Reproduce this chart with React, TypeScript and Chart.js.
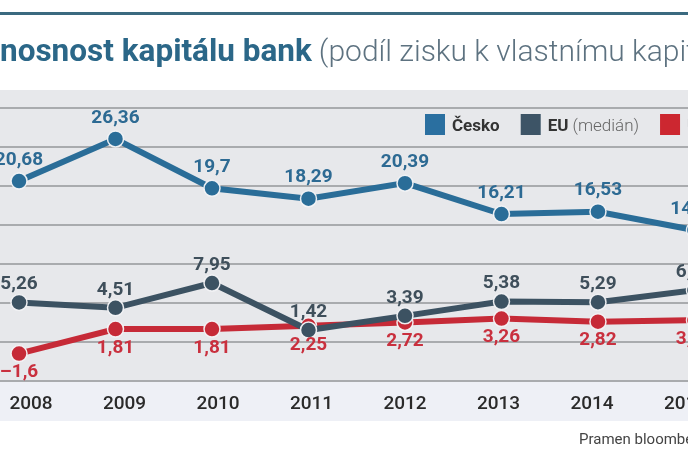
import React, { useEffect, useRef } from 'react';
import { Chart, registerables } from 'chart.js';

Chart.register(...registerables);

// ---------- data ----------
const years = [2008, 2009, 2010, 2011, 2012, 2013, 2014, 2015];
const cesko = [20.68, 26.36, 19.7, 18.29, 20.39, 16.21, 16.53, 14.05];
const eu = [5.26, 4.51, 7.95, 1.42, 3.39, 5.38, 5.29, 6.95];
const usa = [-1.6, 1.81, 1.81, 2.25, 2.72, 3.26, 2.82, 3.03];
const seriesNames = ['Česko', 'EU', 'USA'];
const seriesNotes = ['', '(medián)', ''];
const gridSteps = [0, 1, 2, 3, 4, 5, 6, 7];
const titleBold = 'Výnosnost kapitálu bank';
const titleLight = '(podíl zisku k vlastnímu kapitálu)';
const sourceText = 'Pramen bloomberg';

// ---------- styles ----------
const lineColors = ['#2a6d98', '#3c5262', '#c62a37'];
const legendColors = ['#2a6fa0', '#3d5466', '#cc2730'];
const labelColors = ['#2d6a93', '#3f4f5b', '#c9303e'];
const labelOffsets = [-21, -18, 19];
const FONT = 'Roboto, "Noto Sans", sans-serif';

const fmt = (v: number) => (v < 0 ? '–' : '') + String(Math.abs(v)).replace('.', ',');

const decorPlugin = {
  id: 'decor',
  beforeDraw(chart: any) {
    const { ctx, chartArea: a, width, height } = chart;
    ctx.save();
    ctx.fillStyle = '#ffffff';
    ctx.fillRect(0, 0, width, height);
    ctx.fillStyle = '#e7e8eb';
    ctx.fillRect(0, a.top, width, a.bottom - a.top);
    ctx.fillStyle = '#eef0f6';
    ctx.fillRect(0, a.bottom, width, 40);
    ctx.fillStyle = '#3b6a80';
    ctx.fillRect(0, 12, width, 3);

    // title (starts left of the visible area, as in the cropped original)
    ctx.textAlign = 'left';
    ctx.textBaseline = 'alphabetic';
    ctx.font = `bold 31.5px ${FONT}`;
    const x0 = -ctx.measureText('Vý').width;
    ctx.fillStyle = '#2b6788';
    ctx.fillText(titleBold, x0, 61);
    const wb = ctx.measureText(titleBold).width;
    ctx.font = `300 30px ${FONT}`;
    ctx.fillStyle = '#5d7280';
    ctx.fillText(titleLight, x0 + wb + 7, 61);

    ctx.font = `15px ${FONT}`;
    ctx.fillStyle = '#444444';
    ctx.fillText(sourceText, 579, 444);
    ctx.restore();
  },
  afterDatasetsDraw(chart: any) {
    const { ctx } = chart;
    ctx.save();
    // value labels
    ctx.textAlign = 'center';
    ctx.textBaseline = 'middle';
    ctx.font = `bold 19px ${FONT}`;
    chart.data.datasets.forEach((ds: any, i: number) => {
      const meta = chart.getDatasetMeta(i);
      ctx.fillStyle = labelColors[i];
      meta.data.forEach((pt: any, j: number) => {
        ctx.fillText(fmt(ds.data[j].y), pt.x, pt.y + labelOffsets[i]);
      });
    });
    // legend
    let x = 425;
    const sqTop = 114;
    ctx.textAlign = 'left';
    ctx.textBaseline = 'alphabetic';
    seriesNames.forEach((name, i) => {
      ctx.fillStyle = legendColors[i];
      ctx.fillRect(x, sqTop, 20, 21);
      x += 27;
      ctx.font = `bold 17px ${FONT}`;
      ctx.fillStyle = '#333333';
      ctx.fillText(name, x, 131);
      x += ctx.measureText(name).width;
      if (seriesNotes[i]) {
        x += 4;
        ctx.font = `300 17px ${FONT}`;
        ctx.fillStyle = '#666666';
        ctx.fillText(seriesNotes[i], x, 131);
        x += ctx.measureText(seriesNotes[i]).width;
      }
      x += 21;
    });
    ctx.restore();
  },
};

const series = [cesko, eu, usa];
const yIds = ['yC', 'yE', 'yU'];

export default function App() {
  const ref = useRef<HTMLCanvasElement>(null);
  useEffect(() => {
    if (!ref.current) return;
    const chart = new Chart(ref.current, {
      type: 'line',
      data: {
        datasets: series.map((vals, i) => ({
          label: seriesNames[i],
          data: years.map((y, j) => ({ x: y, y: vals[j] })),
          xAxisID: 'x',
          yAxisID: yIds[i],
          borderColor: lineColors[i],
          backgroundColor: lineColors[i],
          borderWidth: 6,
          pointRadius: 8,
          pointBackgroundColor: lineColors[i],
          pointBorderColor: 'rgba(245,246,248,0.95)',
          pointBorderWidth: 1.5,
          tension: 0,
          fill: false,
        })),
      },
      options: {
        animation: false,
        responsive: false,
        devicePixelRatio: 1,
        layout: { autoPadding: false, padding: { top: 90, left: 0, right: 0, bottom: 0 } },
        plugins: { legend: { display: false }, tooltip: { enabled: false } },
        scales: {
          x: { type: 'linear', display: false, min: 2007.803, max: 2014.933 },
          xl: {
            type: 'linear',
            position: 'bottom',
            min: 2007.668,
            max: 2015.026,
            afterBuildTicks: (s: any) => {
              s.ticks = years.map((v) => ({ value: v }));
            },
            afterFit: (s: any) => {
              s.height = 78;
              s.paddingLeft = 0;
              s.paddingRight = 0;
            },
            grid: { display: false, drawTicks: false },
            border: { display: false },
            ticks: {
              padding: 12,
              autoSkip: false,
              maxRotation: 0,
              color: '#2a2a2a',
              font: { family: FONT, size: 19, weight: '500' },
              callback: (v: any) => String(v),
            },
          },
          yg: {
            type: 'linear',
            position: 'left',
            min: 0,
            max: 7.4615,
            afterBuildTicks: (s: any) => {
              s.ticks = gridSteps.map((v) => ({ value: v }));
            },
            afterFit: (s: any) => {
              s.width = 0;
              s.paddingTop = 0;
              s.paddingBottom = 0;
            },
            ticks: { display: false },
            border: { display: false },
            grid: { color: '#a9abae', lineWidth: 2, drawTicks: false },
          },
          yC: { type: 'linear', display: false, min: -6.35, max: 32.98 },
          yE: { type: 'linear', display: false, min: -5.66, max: 34.76 },
          yU: { type: 'linear', display: false, min: -5.41, max: 35.0 },
        },
      } as any,
      plugins: [decorPlugin],
    });
    return () => chart.destroy();
  }, []);
  return (
    <div style={{ position: 'absolute', left: 0, top: 0, width: 688, height: 459, overflow: 'hidden' }}>
      <canvas ref={ref} width={688} height={459} style={{ display: 'block' }} />
    </div>
  );
}
